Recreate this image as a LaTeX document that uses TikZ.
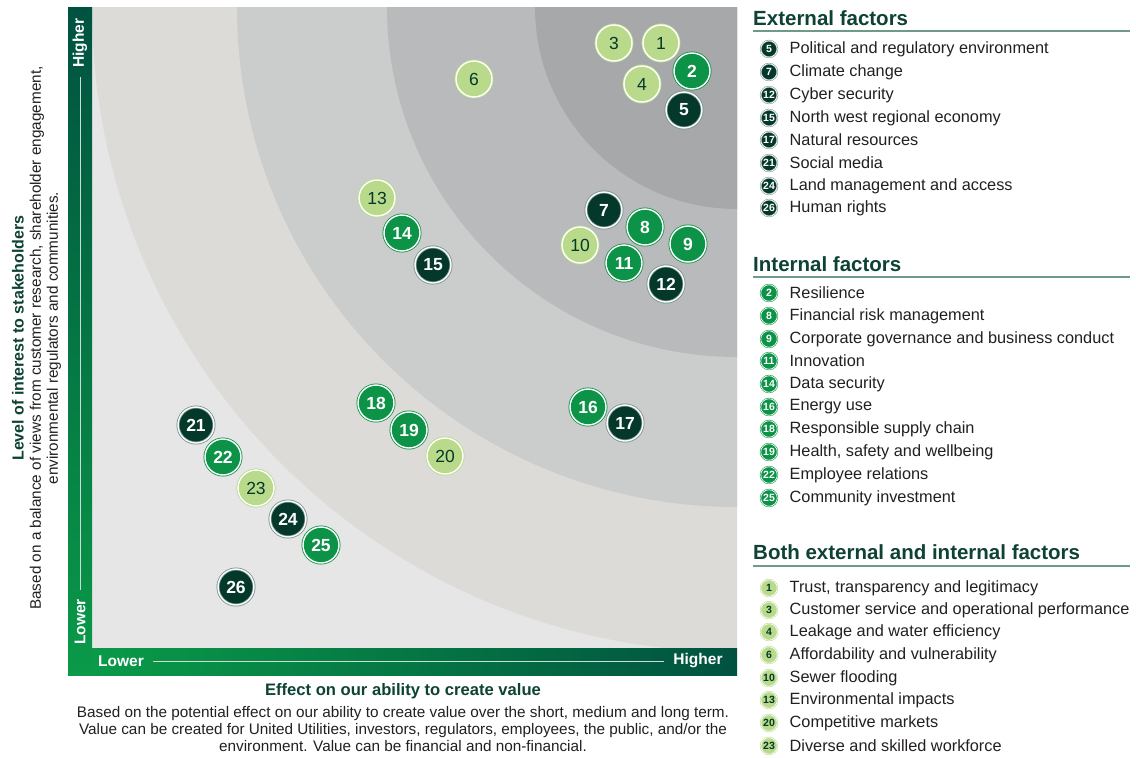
\documentclass[tikz,border=0pt]{standalone}
\usepackage{fontspec}
\setmainfont{Liberation Sans}
\usetikzlibrary{positioning}
\definecolor{darkgreen}{HTML}{04382A}
\definecolor{midgreen}{HTML}{0C9347}
\definecolor{lightgreen}{HTML}{B8DA8A}
\definecolor{headgreen}{HTML}{0D4234}
\definecolor{rulegreen}{HTML}{6F9A89}
\definecolor{barlight}{HTML}{0A9A48}
\definecolor{bardark}{HTML}{005240}
\definecolor{bandA}{HTML}{E6E6E6}
\definecolor{bandB}{HTML}{DCDBD8}
\definecolor{bandC}{HTML}{CBCCCC}
\definecolor{bandD}{HTML}{B9BABC}
\definecolor{bandE}{HTML}{A6A8AA}
\definecolor{bodytext}{HTML}{231F20}
\begin{document}
\begin{tikzpicture}
  [x=1pt,y=-1pt,
  bubble/.style={circle,inner sep=0pt,minimum size=36pt,double=white,
    double distance=1.4pt,line width=0.8pt,font=\fontsize{17.5}{17.5}\selectfont},
  extbub/.style={bubble,fill=darkgreen,draw=darkgreen!55!white,text=white,
    font=\fontsize{17.5}{17.5}\selectfont\bfseries},
  intbub/.style={bubble,fill=midgreen,draw=midgreen,text=white,
    font=\fontsize{17.5}{17.5}\selectfont\bfseries},
  bothbub/.style={bubble,fill=lightgreen,draw=lightgreen,text=darkgreen},
  key/.style={circle,inner sep=0pt,minimum size=16.5pt,double=white,
    double distance=0.7pt,line width=0.5pt,font=\fontsize{10.5}{10.5}\selectfont\bfseries},
  extkey/.style={key,fill=darkgreen,draw=darkgreen!55!white,text=white},
  intkey/.style={key,fill=midgreen,draw=midgreen,text=white},
  bothkey/.style={key,fill=lightgreen,draw=lightgreen,text=darkgreen},
  item/.style={right=10pt of #1,inner sep=2pt,font=\fontsize{16.3}{18}\selectfont,text=bodytext},
  heading/.style={anchor=west,inner sep=0pt,font=\fontsize{20.5}{22}\selectfont\bfseries,text=headgreen},
  barlabel/.style={inner sep=0pt,text=white,font=\fontsize{15.5}{15.5}\selectfont\bfseries},
  barline/.style={white!80!bardark,line width=0.8pt,shorten <=9pt,shorten >=9pt}]
  \useasboundingbox (0,0) rectangle (1136,758);

  \begin{scope}
    \clip (92,7) rectangle (737,648);
    \fill[bandA] (92,7) rectangle (737,648);
    \fill[bandB] (737,7) circle (645pt);
    \fill[bandC] (737,7) circle (500pt);
    \fill[bandD] (737,7) circle (350pt);
    \fill[bandE] (737,7) circle (202pt);
  \end{scope}

  \shade[top color=bardark,bottom color=barlight] (68,7) rectangle (92,675);
  \shade[left color=barlight,right color=bardark] (92,648) rectangle (737,675);

  \node[barlabel,rotate=90] (yhigh) at (80,43) {Higher};
  \node[barlabel,rotate=90] (ylow) at (80,622) {Lower};
  \draw[barline] (yhigh.west) -- (ylow.east);
  \node[barlabel] (xlow) at (121,661) {Lower};
  \node[barlabel] (xhigh) at (698,661) {Higher};
  \draw[barline] (xlow.east) -- (xhigh.west);

  \node[bothbub] (b1) at (661,43) {1};
  \node[intbub] (b2) at (692,71) {2};
  \node[bothbub] (b3) at (614,43) {3};
  \node[bothbub] (b4) at (642,84) {4};
  \node[extbub] (b5) at (684,110) {5};
  \node[bothbub] (b6) at (474,79) {6};
  \node[extbub] (b7) at (604,210) {7};
  \node[intbub] (b8) at (645,227) {8};
  \node[intbub] (b9) at (688,244) {9};
  \node[bothbub] (b10) at (580,245) {10};
  \node[intbub] (b11) at (624,263) {11};
  \node[extbub] (b12) at (666,284) {12};
  \node[bothbub] (b13) at (377,198) {13};
  \node[intbub] (b14) at (402,233) {14};
  \node[extbub] (b15) at (433,265) {15};
  \node[intbub] (b16) at (588,407) {16};
  \node[extbub] (b17) at (625,423) {17};
  \node[intbub] (b18) at (376,403) {18};
  \node[intbub] (b19) at (409,430) {19};
  \node[bothbub] (b20) at (445,456) {20};
  \node[extbub] (b21) at (196,425) {21};
  \node[intbub] (b22) at (223,457) {22};
  \node[bothbub] (b23) at (256,488) {23};
  \node[extbub] (b24) at (288,519) {24};
  \node[intbub] (b25) at (321,545) {25};
  \node[extbub] (b26) at (236,587) {26};

  \node[rotate=90,font=\fontsize{16}{18}\selectfont\bfseries,text=headgreen]
    (ytitle) at (18,338) {Level of interest to stakeholders};
  \node[rotate=90,align=center,font=\fontsize{15.3}{17}\selectfont,text=bodytext]
    (ynote) at (45.5,338) {Based on a balance of views from customer research, shareholder engagement,\\
    environmental regulators and communities.};

  \node[font=\fontsize{16.6}{18}\selectfont\bfseries,text=headgreen]
    (xtitle) at (403,691) {Effect on our ability to create value};
  \node[align=center,font=\fontsize{15.3}{17}\selectfont,text=bodytext]
    (xnote) at (403,729) {Based on the potential effect on our ability to create value over the short, medium and long term.\\
    Value can be created for United Utilities, investors, regulators, employees, the public, and/or the\\
    environment. Value can be financial and non-financial.};

  \node[heading] (exthead) at (753,18) {External factors};
  \draw[rulegreen,line width=1.5pt] (753,31) -- (1130,31);
  \node[extkey] (k5) at (769,49) {5};
  \node[item=k5] (t5) {Political and regulatory environment};
  \node[extkey] (k7) at (769,72) {7};
  \node[item=k7] (t7) {Climate change};
  \node[extkey] (k12) at (769,95) {12};
  \node[item=k12] (t12) {Cyber security};
  \node[extkey] (k15) at (769,118) {15};
  \node[item=k15] (t15) {North west regional economy};
  \node[extkey] (k17) at (769,140) {17};
  \node[item=k17] (t17) {Natural resources};
  \node[extkey] (k21) at (769,163) {21};
  \node[item=k21] (t21) {Social media};
  \node[extkey] (k24) at (769,186) {24};
  \node[item=k24] (t24) {Land management and access};
  \node[extkey] (k26) at (769,208) {26};
  \node[item=k26] (t26) {Human rights};

  \node[heading] (inthead) at (753,264) {Internal factors};
  \draw[rulegreen,line width=1.5pt] (753,277) -- (1130,277);
  \node[intkey] (k2) at (769,293) {2};
  \node[item=k2] (t2) {Resilience};
  \node[intkey] (k8) at (769,316) {8};
  \node[item=k8] (t8) {Financial risk management};
  \node[intkey] (k9) at (769,339) {9};
  \node[item=k9] (t9) {Corporate governance and business conduct};
  \node[intkey] (k11) at (769,361) {11};
  \node[item=k11] (t11) {Innovation};
  \node[intkey] (k14) at (769,384) {14};
  \node[item=k14] (t14) {Data security};
  \node[intkey] (k16) at (769,407) {16};
  \node[item=k16] (t16) {Energy use};
  \node[intkey] (k18) at (769,429) {18};
  \node[item=k18] (t18) {Responsible supply chain};
  \node[intkey] (k19) at (769,452) {19};
  \node[item=k19] (t19) {Health, safety and wellbeing};
  \node[intkey] (k22) at (769,475) {22};
  \node[item=k22] (t22) {Employee relations};
  \node[intkey] (k25) at (769,498) {25};
  \node[item=k25] (t25) {Community investment};

  \node[heading] (bothhead) at (753,552) {Both external and internal factors};
  \draw[rulegreen,line width=1.5pt] (753,566) -- (1130,566);
  \node[bothkey] (k1) at (769,588) {1};
  \node[item=k1] (t1) {Trust, transparency and legitimacy};
  \node[bothkey] (k3) at (769,610) {3};
  \node[item=k3] (t3) {Customer service and operational performance};
  \node[bothkey] (k4) at (769,632) {4};
  \node[item=k4] (t4) {Leakage and water efficiency};
  \node[bothkey] (k6) at (769,655) {6};
  \node[item=k6] (t6) {Affordability and vulnerability};
  \node[bothkey] (k10) at (769,678) {10};
  \node[item=k10] (t10) {Sewer flooding};
  \node[bothkey] (k13) at (769,700) {13};
  \node[item=k13] (t13) {Environmental impacts};
  \node[bothkey] (k20) at (769,723) {20};
  \node[item=k20] (t20) {Competitive markets};
  \node[bothkey] (k23) at (769,746) {23};
  \node[item=k23] (t23) {Diverse and skilled workforce};
\end{tikzpicture}
\end{document}
